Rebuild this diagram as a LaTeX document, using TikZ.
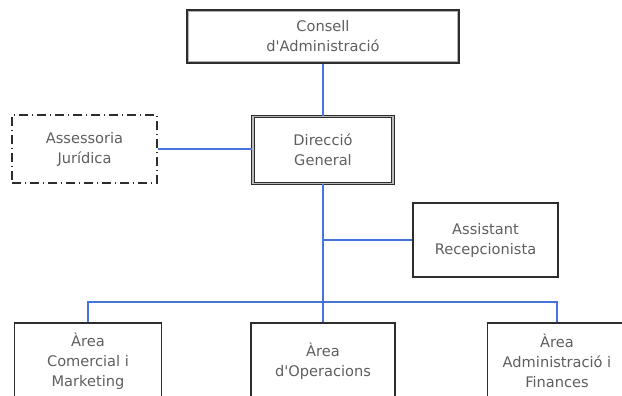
\documentclass[tikz,border=0pt]{standalone}
\usepackage{fontspec}
\setmainfont{DejaVu Sans}[Ligatures=TeXOff]
\definecolor{conncol}{RGB}{70,115,220}
\definecolor{txtcol}{RGB}{95,95,95}
\definecolor{edgecol}{RGB}{45,45,45}
\begin{document}
\begin{tikzpicture}[x=1pt,y=-1pt,
  box/.style={draw=edgecol, line width=1.3pt, fill=white, inner sep=0pt, align=center,
    text=txtcol, font=\fontsize{14.6}{20}\selectfont},
  topbox/.style={box, line width=2.6pt},
  dblbox/.style={box, line width=1.1pt, double=gray!55, double distance=1.6pt},
  dashbox/.style={box, line width=1.3pt, dash pattern=on 9pt off 4pt on 1pt off 4pt},
  conn/.style={draw=conncol, line width=1.3pt}]
\useasboundingbox (0,0) rectangle (622,396);
\clip (0,0) rectangle (622,396);
\fill[white] (0,0) rectangle (622,396);

\node[topbox, minimum width=271pt, minimum height=52pt] (cons) at (323,36.5) {Consell\\d'Administració};
\draw[gray!60, line width=1pt] ([xshift=2.3pt,yshift=-2.3pt]cons.north west) rectangle ([xshift=-2.3pt,yshift=2.3pt]cons.south east);
\node[dashbox, minimum width=145pt, minimum height=68pt] (ases) at (84.5,149) {Assessoria\\Jurídica};
\node[dblbox, minimum width=140pt, minimum height=67pt] (dir) at (323,150) {Direcció\\General};
\node[box, minimum width=145pt, minimum height=74pt] (asst) at (485.5,240) {Assistant\\Recepcionista};
\node[box, minimum width=147pt, minimum height=76pt] (com) at (88,361) {Àrea\\Comercial i\\Marketing};
\node[box, minimum width=144pt, minimum height=76pt] (op) at (323,361) {Àrea\\d'Operacions};
\node[box, minimum width=139pt, minimum height=76pt] (fin) at (557,361) {Àrea\\Administració i\\Finances};

\coordinate (bus) at (323,302);
\draw[conn] (cons.south) -- (dir.north);
\draw[conn] (ases.east) -- (ases.east -| dir.west);
\draw[conn] (dir.south) -- (bus);
\draw[conn] (dir.south |- asst.west) -- (asst.west);
\draw[conn] (com.north) |- (bus) -| (fin.north);
\draw[conn] (bus) -- (op.north);
\end{tikzpicture}
\end{document}
